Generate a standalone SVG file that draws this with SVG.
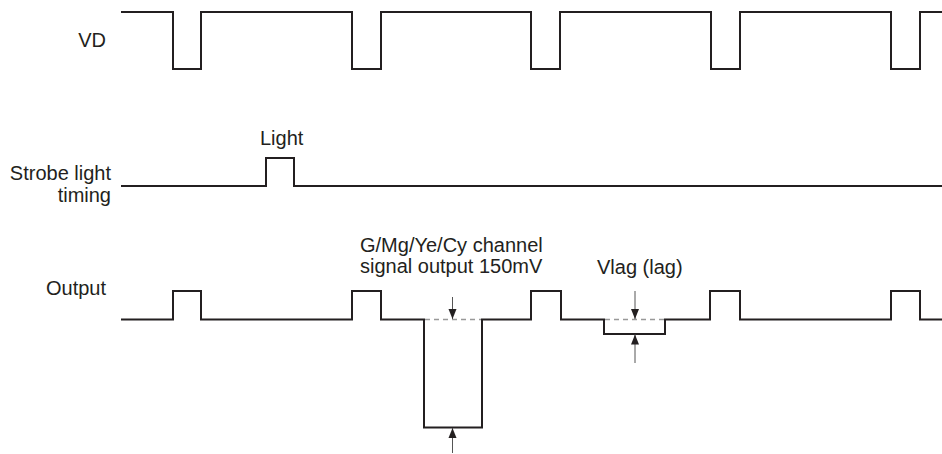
<svg xmlns="http://www.w3.org/2000/svg" width="942" height="454" viewBox="0 0 942 454">
<style>
.sig{fill:none;stroke:#231f20;stroke-width:2;stroke-linejoin:miter}
.dash{fill:none;stroke:#999;stroke-width:1.5;stroke-dasharray:5 4}
.dim{fill:none;stroke:#555;stroke-width:1}
.lbl{font-family:"Liberation Sans",Arial,sans-serif;font-size:20px;fill:#231f20}
</style>
<defs>
<marker id="ah" markerUnits="userSpaceOnUse" markerWidth="10" markerHeight="10" viewBox="0 0 10 10" refX="10" refY="5" orient="auto">
<path d="M0,1 L10,5 L0,9 Z" fill="#231f20"/>
</marker>
</defs>
<g id="vd">
<text class="lbl" x="106" y="47" text-anchor="end">VD</text>
<path class="sig" d="M121,12 H173 V69 H201 V12 H352 V69 H381 V12 H531 V69 H560 V12 H711 V69 H740 V12 H891 V69 H920 V12 H942"/>
</g>
<g id="strobe">
<text class="lbl" x="111" y="180" text-anchor="end">Strobe light</text>
<text class="lbl" x="111" y="202" text-anchor="end">timing</text>
<text class="lbl" x="260" y="145">Light</text>
<path class="sig" d="M121,186 H266 V158 H294 V186 H942"/>
</g>
<g id="output">
<text class="lbl" x="106" y="295" text-anchor="end">Output</text>
<path class="sig" d="M121,319.5 H173 V291 H201 V319.5 H352 V291 H381 V319.5 H424 V427.5 H482 V319.5 H531 V291 H561 V319.5 H604 V334 H665 V319.5 H710 V291 H740 V319.5 H891 V291 H920 V319.5 H942"/>
<path class="dash" d="M425,319.5 H481 M605,319.5 H664"/>
</g>
<g id="labels">
<text class="lbl" x="360" y="252">G/Mg/Ye/Cy channel</text>
<text class="lbl" x="360" y="273">signal output 150mV</text>
<text class="lbl" x="597" y="274">Vlag (lag)</text>
</g>
<g id="connectors">
<line class="dim" x1="452.5" y1="297" x2="452.5" y2="319" marker-end="url(#ah)"/>
<line class="dim" x1="452.5" y1="453" x2="452.5" y2="428" marker-end="url(#ah)"/>
<line class="dim" x1="635" y1="291" x2="635" y2="319" marker-end="url(#ah)"/>
<line class="dim" x1="635" y1="363" x2="635" y2="334.5" marker-end="url(#ah)"/>
</g>
</svg>
